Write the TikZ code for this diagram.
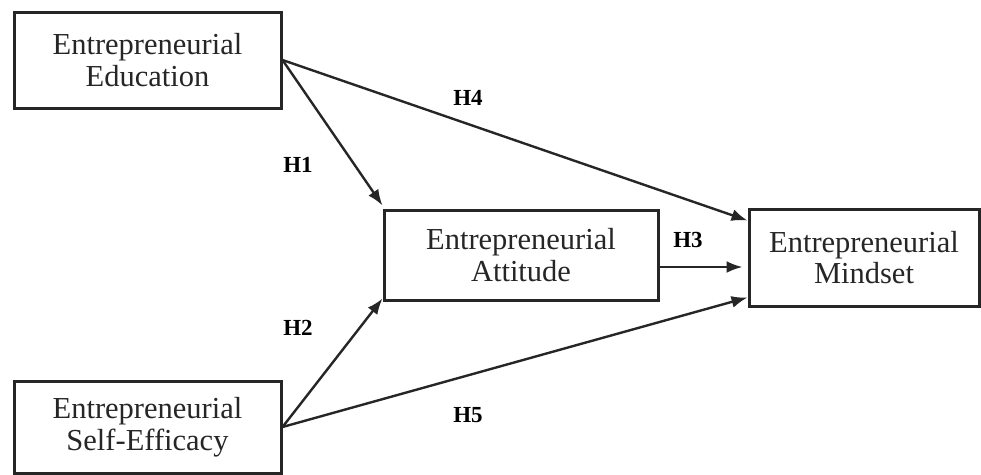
\documentclass[tikz,border=0pt]{standalone}
\usepackage{fontspec}
\setmainfont{Liberation Serif}
\usetikzlibrary{arrows.meta}
\definecolor{ink}{HTML}{262626}
\tikzset{
  box/.style={draw=ink, line width=3pt, fill=white, text=ink, align=center,
    font=\fontsize{30.5}{31.5}\selectfont, inner sep=0pt},
  link/.style={draw=ink, line width=2.4pt, -{Latex[length=16pt,width=12pt]}},
  hyp/.style={font=\fontsize{23}{24}\selectfont\bfseries, text=black, inner sep=0pt}
}
\begin{document}
\begin{tikzpicture}[x=1pt,y=-1pt]
\useasboundingbox (0,0) rectangle (981,474);
\node[box, minimum width=267pt, minimum height=96pt] (edu) at (147.5,60) {Entrepreneurial\\Education};
\node[box, minimum width=267pt, minimum height=92pt] (self) at (147.5,427) {Entrepreneurial\\Self-Efficacy};
\node[box, minimum width=274pt, minimum height=90pt] (att) at (521,255) {Entrepreneurial\\Attitude};
\node[box, minimum width=230pt, minimum height=97pt] (mind) at (864,257.5) {Entrepreneurial\\Mindset};
\draw[link] (edu.east) -- ([yshift=3pt]att.north west);
\draw[link] (edu.east) -- ([yshift=-13pt]mind.north west);
\draw[link] (self.east) -- ([yshift=3pt]att.south west);
\draw[link] (self.east) -- ([yshift=10pt]mind.south west);
\draw[link, shorten >=5pt] ([yshift=-12pt]att.east) -- ([yshift=-12pt]att.east -| mind.west);
\node[hyp] (h1) at (298,165) {H1};
\node[hyp] (h2) at (298,328) {H2};
\node[hyp] (h3) at (688,240) {H3};
\node[hyp] (h4) at (468,98) {H4};
\node[hyp] (h5) at (468,415) {H5};
\end{tikzpicture}
\end{document}
